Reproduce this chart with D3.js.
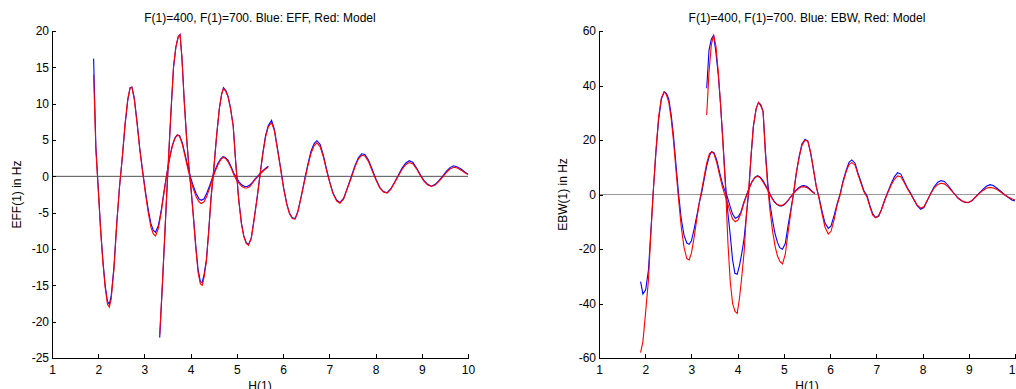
<!DOCTYPE html>
<meta charset="utf-8">
<script src="https://d3js.org/d3.v7.min.js"></script>
<style>
  body { margin: 0; background: #fff; }
  svg text { font-family: "Liberation Sans", Arial, sans-serif; font-size: 12px; fill: #000; }
</style>
<body>
<svg id="chart" width="1016" height="389"></svg>
<script>

// ---- data ----
var xTicks = [1, 2, 3, 4, 5, 6, 7, 8, 9, 10];
var effTicks = [-25, -20, -15, -10, -5, 0, 5, 10, 15, 20];
var ebwTicks = [-60, -40, -20, 0, 20, 40, 60];

// EFF, F(1)=400
var eff400X = [1.90, 1.95, 2.00, 2.05, 2.10, 2.15, 2.20, 2.24, 2.28, 2.34, 2.40, 2.46, 2.52, 2.58, 2.64, 2.69, 2.73, 2.78, 2.84, 2.90, 2.96, 3.02, 3.08, 3.14, 3.19, 3.24, 3.30, 3.36, 3.42, 3.48, 3.54, 3.60, 3.66, 3.71, 3.76, 3.82, 3.88, 3.94, 4.00, 4.06, 4.12, 4.18, 4.23, 4.29, 4.35, 4.41, 4.47, 4.53, 4.59, 4.65, 4.70, 4.75, 4.81, 4.87, 4.93, 4.99, 5.05, 5.11, 5.17, 5.22, 5.28, 5.34, 5.40, 5.46, 5.52, 5.58, 5.63, 5.68];
var eff400Blue = [16.2, 4.0, -1.5, -7.0, -11.5, -15.0, -17.2, -17.6, -16.5, -12.5, -6.5, -1.5, 2.5, 7.0, 10.5, 12.2, 12.3, 10.8, 7.5, 3.8, 0.8, -2.0, -4.5, -6.5, -7.4, -7.7, -6.8, -4.8, -2.2, 0.2, 2.4, 4.2, 5.3, 5.7, 5.6, 4.6, 3.0, 1.3, -0.2, -1.4, -2.4, -3.1, -3.3, -3.1, -2.3, -1.3, -0.2, 0.9, 1.8, 2.4, 2.7, 2.6, 2.2, 1.4, 0.5, -0.2, -0.8, -1.2, -1.4, -1.4, -1.2, -0.8, -0.3, 0.1, 0.5, 0.9, 1.15, 1.4];
var eff400Red = [14.0, 3.5, -1.8, -7.3, -11.8, -15.3, -17.6, -18.0, -16.9, -12.8, -6.7, -1.5, 2.6, 7.2, 10.7, 12.2, 12.2, 10.6, 7.3, 3.6, 0.6, -2.3, -4.9, -7.0, -7.9, -8.2, -7.2, -5.1, -2.4, 0.1, 2.3, 4.1, 5.2, 5.7, 5.5, 4.4, 2.7, 1.0, -0.5, -1.8, -2.8, -3.5, -3.75, -3.5, -2.7, -1.6, -0.4, 0.7, 1.6, 2.3, 2.6, 2.5, 2.0, 1.2, 0.3, -0.5, -1.0, -1.4, -1.6, -1.6, -1.4, -0.9, -0.4, 0.0, 0.4, 0.8, 1.05, 1.3];

// EFF, F(1)=700
var eff700X = [3.33, 3.38, 3.43, 3.48, 3.53, 3.58, 3.63, 3.68, 3.73, 3.77, 3.81, 3.86, 3.91, 3.96, 4.01, 4.06, 4.11, 4.16, 4.21, 4.25, 4.29, 4.34, 4.39, 4.44, 4.50, 4.56, 4.62, 4.67, 4.71, 4.76, 4.81, 4.86, 4.92, 4.98, 5.04, 5.10, 5.15, 5.20, 5.25, 5.31, 5.37, 5.44, 5.50, 5.56, 5.62, 5.68, 5.75, 5.81, 5.88, 5.95, 6.01, 6.08, 6.14, 6.20, 6.26, 6.32, 6.39, 6.46, 6.53, 6.60, 6.67, 6.73, 6.80, 6.87, 6.94, 7.01, 7.08, 7.16, 7.23, 7.31, 7.39, 7.47, 7.55, 7.63, 7.70, 7.77, 7.85, 7.93, 8.01, 8.09, 8.17, 8.25, 8.33, 8.41, 8.49, 8.57, 8.65, 8.73, 8.81, 8.89, 8.97, 9.05, 9.13, 9.21, 9.29, 9.37, 9.45, 9.53, 9.61, 9.69, 9.77, 9.85, 9.93, 10.00];
var eff700Blue = [-22.2, -16.0, -9.5, -2.8, 3.5, 9.5, 15.0, 17.8, 19.2, 19.5, 16.5, 10.5, 5.5, 1.5, -1.8, -5.5, -9.5, -12.8, -14.5, -14.6, -13.5, -11.5, -7.5, -3.0, 1.0, 5.5, 9.3, 11.3, 12.2, 11.8, 11.0, 9.5, 7.0, 1.5, -3.2, -6.5, -8.2, -9.1, -9.4, -8.5, -6.0, -2.8, 0.2, 3.2, 5.6, 7.0, 7.7, 6.5, 3.8, 1.0, -1.5, -3.8, -5.1, -5.7, -5.8, -4.8, -2.8, -0.6, 1.5, 3.4, 4.5, 4.9, 4.4, 2.9, 1.0, -0.8, -2.3, -3.3, -3.6, -3.0, -1.6, -0.1, 1.4, 2.6, 3.1, 3.0, 2.2, 0.9, -0.4, -1.5, -2.1, -2.25, -1.7, -0.8, 0.1, 1.1, 1.8, 2.15, 1.9, 1.1, 0.2, -0.6, -1.1, -1.35, -1.1, -0.6, 0.0, 0.7, 1.2, 1.45, 1.3, 1.0, 0.6, 0.3];
var eff700Red = [-21.8, -15.8, -9.3, -2.6, 3.7, 9.7, 15.2, 17.8, 19.2, 19.5, 16.4, 10.4, 5.4, 1.4, -2.0, -5.8, -9.8, -13.2, -14.8, -15.0, -13.9, -11.7, -7.7, -3.1, 1.0, 5.5, 9.3, 11.3, 12.1, 11.7, 10.9, 9.4, 6.9, 1.4, -3.3, -6.6, -8.3, -9.2, -9.5, -8.6, -6.1, -2.9, 0.1, 3.0, 5.4, 6.8, 7.4, 6.3, 3.6, 0.8, -1.7, -3.9, -5.2, -5.8, -5.9, -4.9, -2.9, -0.8, 1.3, 3.1, 4.2, 4.6, 4.1, 2.7, 0.8, -0.9, -2.4, -3.4, -3.7, -3.1, -1.7, -0.3, 1.2, 2.4, 2.9, 2.8, 2.0, 0.7, -0.5, -1.6, -2.15, -2.3, -1.8, -0.9, 0.0, 0.9, 1.6, 1.9, 1.7, 1.0, 0.1, -0.7, -1.2, -1.4, -1.2, -0.7, -0.1, 0.5, 1.0, 1.25, 1.15, 0.85, 0.5, 0.25];

// EBW, F(1)=400
var ebw400X = [1.90, 1.95, 2.01, 2.07, 2.12, 2.17, 2.23, 2.29, 2.35, 2.41, 2.46, 2.51, 2.56, 2.61, 2.66, 2.72, 2.78, 2.84, 2.90, 2.95, 3.00, 3.06, 3.12, 3.17, 3.22, 3.28, 3.33, 3.39, 3.44, 3.49, 3.55, 3.61, 3.67, 3.72, 3.77, 3.83, 3.89, 3.95, 4.01, 4.07, 4.13, 4.19, 4.25, 4.31, 4.37, 4.43, 4.49, 4.55, 4.61, 4.67, 4.73, 4.79, 4.85, 4.91, 4.96, 5.02, 5.08, 5.14, 5.20, 5.26, 5.32, 5.38, 5.43, 5.49, 5.55, 5.61, 5.67];
var ebw400Blue = [-32.0, -36.5, -35.0, -27.7, -14.0, 0.0, 15.0, 27.5, 35.0, 37.7, 37.0, 35.0, 29.5, 21.8, 12.0, 0.5, -9.0, -15.0, -17.8, -18.3, -17.0, -12.5, -7.5, -3.0, 0.5, 6.0, 10.5, 14.3, 15.7, 15.3, 12.5, 8.0, 4.0, 1.5, -0.5, -4.0, -7.2, -8.7, -8.2, -6.5, -3.0, -0.3, 2.5, 4.8, 6.3, 6.9, 6.4, 5.0, 3.2, 1.2, -0.8, -2.5, -3.6, -4.2, -4.2, -3.6, -2.4, -1.0, 0.3, 1.5, 2.5, 3.1, 3.3, 3.0, 2.2, 1.2, 0.4];
var ebw400Red = [-58.0, -54.0, -43.0, -31.4, -15.0, 0.0, 16.0, 28.5, 35.5, 37.7, 36.5, 33.8, 28.0, 20.0, 10.0, -1.5, -12.0, -19.5, -23.5, -24.0, -21.5, -15.5, -8.5, -3.0, 1.5, 7.0, 11.5, 15.0, 15.7, 14.8, 11.5, 7.0, 2.8, 0.0, -2.5, -6.0, -9.0, -10.0, -9.3, -7.0, -3.5, -0.5, 2.3, 4.6, 6.1, 6.7, 6.1, 4.6, 2.8, 0.8, -1.1, -2.7, -3.6, -4.0, -4.0, -3.4, -2.3, -1.0, 0.2, 1.3, 2.2, 2.8, 2.9, 2.6, 1.9, 1.0, 0.3];

// EBW, F(1)=700
var ebw700X = [3.33, 3.38, 3.43, 3.48, 3.53, 3.58, 3.63, 3.68, 3.74, 3.79, 3.84, 3.89, 3.94, 3.99, 4.04, 4.09, 4.14, 4.19, 4.24, 4.29, 4.34, 4.40, 4.45, 4.50, 4.55, 4.60, 4.65, 4.70, 4.76, 4.81, 4.86, 4.91, 4.97, 5.03, 5.09, 5.15, 5.21, 5.27, 5.33, 5.39, 5.46, 5.52, 5.58, 5.64, 5.70, 5.76, 5.83, 5.89, 5.96, 6.02, 6.09, 6.15, 6.22, 6.28, 6.35, 6.41, 6.47, 6.54, 6.60, 6.67, 6.73, 6.80, 6.86, 6.92, 6.98, 7.05, 7.11, 7.18, 7.25, 7.32, 7.39, 7.46, 7.53, 7.60, 7.67, 7.74, 7.81, 7.88, 7.96, 8.03, 8.10, 8.17, 8.25, 8.33, 8.40, 8.47, 8.55, 8.62, 8.70, 8.77, 8.85, 8.92, 8.99, 9.07, 9.14, 9.22, 9.30, 9.38, 9.46, 9.53, 9.61, 9.69, 9.77, 9.85, 9.93, 10.00];
var ebw700Blue = [39.0, 53.0, 57.0, 58.5, 52.0, 44.0, 33.0, 20.0, 3.0, -7.0, -15.0, -24.0, -28.9, -29.3, -26.0, -21.5, -16.0, -7.5, 1.0, 14.0, 25.0, 31.5, 33.8, 33.0, 30.5, 16.0, 4.5, -3.5, -10.0, -14.5, -17.5, -19.5, -20.1, -18.0, -11.5, -5.5, 0.5, 8.0, 14.0, 18.5, 20.3, 19.5, 15.0, 9.0, 3.0, -1.0, -6.5, -10.5, -12.4, -11.5, -7.5, -3.5, 0.5, 5.0, 9.0, 11.8, 12.7, 11.5, 8.0, 4.5, 1.5, -0.5, -4.0, -7.0, -8.4, -7.8, -5.5, -2.0, 1.0, 4.0, 6.5, 8.0, 7.5, 5.0, 2.5, 0.5, -1.8, -4.0, -5.4, -4.8, -2.3, 0.2, 2.8, 4.5, 5.1, 4.8, 3.4, 1.8, 0.0, -1.4, -2.4, -2.9, -3.0, -2.3, -1.0, 0.4, 1.8, 3.0, 3.6, 3.3, 2.3, 1.2, 0.0, -1.0, -2.0, -2.4];
var ebw700Red = [29.2, 45.0, 55.0, 58.5, 54.5, 45.0, 33.0, 19.0, 2.0, -18.0, -32.0, -40.0, -42.8, -43.6, -38.0, -30.0, -21.0, -7.0, 2.0, 14.5, 25.0, 31.5, 33.8, 32.5, 30.5, 15.0, 3.0, -6.0, -14.0, -19.0, -22.5, -24.5, -25.5, -22.0, -14.0, -6.5, 0.5, 8.0, 13.5, 18.0, 20.0, 19.5, 15.5, 9.5, 3.0, -1.5, -7.5, -12.0, -14.5, -13.5, -9.0, -4.0, 0.0, 4.5, 8.5, 11.0, 11.7, 10.8, 7.5, 4.0, 1.0, -1.0, -4.5, -7.5, -8.6, -8.0, -5.7, -2.3, 0.7, 3.4, 5.6, 6.8, 6.5, 4.5, 2.2, 0.2, -1.8, -3.8, -5.0, -4.5, -2.2, 0.1, 2.3, 3.7, 4.1, 3.9, 2.9, 1.5, 0.0, -1.3, -2.3, -2.8, -2.9, -2.2, -1.0, 0.2, 1.4, 2.3, 2.6, 2.4, 1.8, 0.9, -0.1, -0.9, -1.6, -2.0];

// ---- layout ----
var panelW = 416, panelH = 327, panelTop = 31;
var svg = d3.select("#chart");

function drawPanel(opt) {
    var g = svg.append("g")
        .attr("transform", "translate(" + opt.left + "," + panelTop + ")");

    var x = d3.scaleLinear().domain([1, 10]).range([0, panelW]);
    var y = d3.scaleLinear().domain(opt.yDomain).range([panelH, 0]);

    // zero reference line
    g.append("line")
        .attr("x1", x(1)).attr("x2", x(10))
        .attr("y1", y(0)).attr("y2", y(0))
        .attr("stroke", opt.zeroColor)
        .attr("stroke-width", opt.zeroWidth);

    var xAxis = g.append("g")
        .attr("transform", "translate(0," + panelH + ")")
        .call(d3.axisBottom(x).tickValues(xTicks).tickFormat(d3.format("d"))
            .tickSizeInner(-4).tickSizeOuter(0).tickPadding(7));
    var yAxis = g.append("g")
        .call(d3.axisLeft(y).tickValues(opt.yTicks).tickFormat(d3.format("d"))
            .tickSizeInner(-4).tickSizeOuter(0).tickPadding(3));

    [xAxis, yAxis].forEach(function(a) {
        a.selectAll("path, line").attr("stroke", "#000").attr("shape-rendering", "crispEdges");
        a.selectAll("text").attr("fill", "#000").style("font-size", "12px")
            .style("font-family", "'Liberation Sans', Arial, sans-serif");
    });
    // minus sign as plain hyphen like the original
    yAxis.selectAll("text").text(function(d) { return String(d); });

    opt.series.forEach(function(s) {
        var line = d3.line()
            .x(function(d, i) { return x(s.xs[i]); })
            .y(function(d) { return y(d); });
        g.append("path")
            .datum(s.ys)
            .attr("fill", "none")
            .attr("stroke", s.color)
            .attr("stroke-width", 1.1)
            .attr("d", line);
    });

    g.append("text")
        .attr("x", panelW / 2).attr("y", -9)
        .attr("text-anchor", "middle")
        .text(opt.title);

    g.append("text")
        .attr("x", panelW / 2).attr("y", panelH + 32)
        .attr("text-anchor", "middle")
        .text("H(1)");

    g.append("text")
        .attr("transform", "translate(" + (opt.yLabelX) + "," + (panelH / 2) + ") rotate(-90)")
        .attr("text-anchor", "middle")
        .text(opt.yLabel);
}

drawPanel({
    left: 52,
    yDomain: [-25, 20],
    yTicks: effTicks,
    title: "F(1)=400, F(1)=700. Blue: EFF, Red: Model",
    yLabel: "EFF(1) in Hz",
    yLabelX: -31,
    zeroColor: "#222",
    zeroWidth: 0.8,
    series: [
        { xs: eff400X, ys: eff400Blue, color: "#0000ff" },
        { xs: eff700X, ys: eff700Blue, color: "#0000ff" },
        { xs: eff400X, ys: eff400Red, color: "#ff0000" },
        { xs: eff700X, ys: eff700Red, color: "#ff0000" }
    ]
});

drawPanel({
    left: 599,
    yDomain: [-60, 60],
    yTicks: ebwTicks,
    title: "F(1)=400, F(1)=700. Blue: EBW, Red: Model",
    yLabel: "EBW(1) in Hz",
    yLabelX: -32,
    zeroColor: "#999",
    zeroWidth: 1,
    series: [
        { xs: ebw400X, ys: ebw400Blue, color: "#0000ff" },
        { xs: ebw700X, ys: ebw700Blue, color: "#0000ff" },
        { xs: ebw400X, ys: ebw400Red, color: "#ff0000" },
        { xs: ebw700X, ys: ebw700Red, color: "#ff0000" }
    ]
});
</script>
</body>
